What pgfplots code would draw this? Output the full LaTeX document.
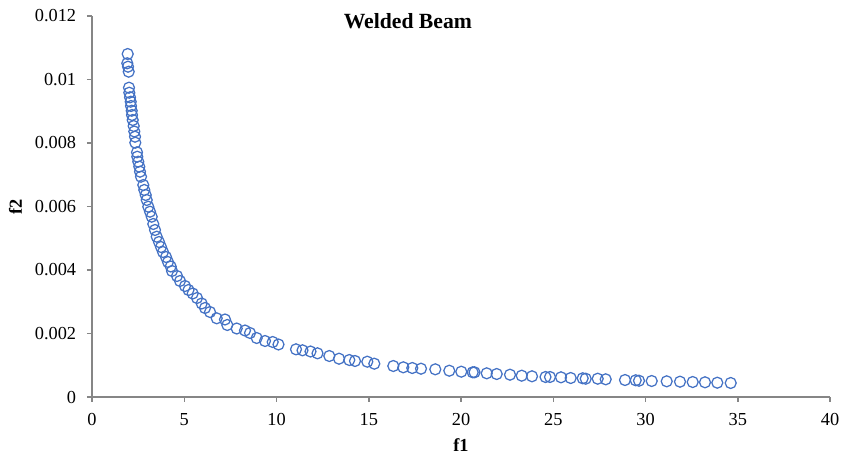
\documentclass[border=0pt]{standalone}
\usepackage{fontspec}
\setmainfont{Liberation Serif}
\usepackage{pgfplots}
\pgfplotsset{compat=1.18}
\definecolor{ptblue}{RGB}{68,114,196}
\definecolor{axgray}{RGB}{134,134,134}

\begin{document}
\begin{tikzpicture}
\useasboundingbox (-55.2pt,-34.2pt) rectangle (456pt,238.2pt);
\begin{axis}[
    scale only axis,
    width=442.8pt,
    height=228.6pt,
    xmin=0, xmax=40,
    ymin=0, ymax=0.012,
    axis lines*=left,
    axis line style={draw=axgray, line width=0.9pt},
    every tick/.style={draw=axgray, line width=0.9pt},
    tick align=outside,
    major tick length=3pt,
    xtick={0,5,...,40},
    ytick={0,0.002,0.004,0.006,0.008,0.01,0.012},
    yticklabels={0,0.002,0.004,0.006,0.008,0.01,0.012},
    scaled y ticks=false,
    /pgf/number format/assume math mode=true,
    xticklabel={\pgfmathprintnumber{\tick}},
    ticklabel style={font=\fontsize{11}{13}\selectfont},
    xticklabel style={yshift=-3.5pt},
    yticklabel style={xshift=-3pt},
    xlabel={\textbf{f1}},
    ylabel={\textbf{f2}},
    label style={font=\fontsize{11}{13}\selectfont},
    x label style={at={(axis description cs:0.5,0)}, anchor=center, yshift=-28.8pt},
    y label style={at={(axis description cs:0,0.5)}, anchor=center, yshift=46pt},
    clip=false,
]
\addplot[only marks, mark=o, mark size=3.3pt, mark options={draw=ptblue, line width=0.75pt}] coordinates {
(1.935,0.010803) (1.913,0.010510) (1.951,0.010403) (1.989,0.010246)
(2.005,0.009742) (2.022,0.009584) (2.060,0.009439) (2.098,0.009301)
(2.114,0.009165) (2.152,0.009017) (2.168,0.008882) (2.206,0.008724)
(2.260,0.008535) (2.293,0.008362) (2.331,0.008198) (2.347,0.008010)
(2.439,0.007707) (2.455,0.007568) (2.509,0.007411) (2.564,0.007254)
(2.602,0.007096) (2.656,0.006939) (2.780,0.006677) (2.835,0.006520)
(2.911,0.006362) (2.965,0.006205) (3.051,0.005994) (3.144,0.005836)
(3.236,0.005679) (3.322,0.005449) (3.415,0.005260) (3.507,0.005049)
(3.631,0.004882) (3.740,0.004724) (3.848,0.004567) (4.011,0.004409)
(4.119,0.004252) (4.266,0.004110) (4.336,0.003969) (4.607,0.003811)
(4.770,0.003654) (5.041,0.003496) (5.230,0.003370) (5.458,0.003260)
(5.691,0.003118) (5.946,0.002945) (6.125,0.002803) (6.396,0.002677)
(6.759,0.002479) (7.209,0.002441) (7.333,0.002268) (7.843,0.002157)
(8.293,0.002094) (8.564,0.002016) (8.927,0.001858) (9.377,0.001764)
(9.794,0.001732) (10.108,0.001654) (11.057,0.001502) (11.409,0.001471)
(11.843,0.001433) (12.222,0.001376) (12.862,0.001291) (13.388,0.001206)
(13.946,0.001165) (14.255,0.001134) (14.921,0.001112) (15.301,0.001049)
(16.331,0.000976) (16.873,0.000935) (17.360,0.000913) (17.832,0.000891)
(18.607,0.000872) (19.366,0.000828) (20.016,0.000797) (20.634,0.000778)
(20.732,0.000778) (21.393,0.000746) (21.935,0.000724) (22.656,0.000702)
(23.290,0.000671) (23.848,0.000652) (24.580,0.000630) (24.824,0.000630)
(25.420,0.000620) (25.946,0.000598) (26.596,0.000589) (26.759,0.000576)
(27.409,0.000576) (27.843,0.000557) (28.889,0.000535) (29.469,0.000526)
(29.648,0.000513) (30.336,0.000504) (31.149,0.000494) (31.870,0.000482)
(32.558,0.000472) (33.225,0.000463) (33.892,0.000450) (34.618,0.000441)
};
\node[font=\fontsize{13}{15}\bfseries\selectfont] at (rel axis cs:0.428,0.987) {Welded Beam};
\end{axis}
\end{tikzpicture}
\end{document}
